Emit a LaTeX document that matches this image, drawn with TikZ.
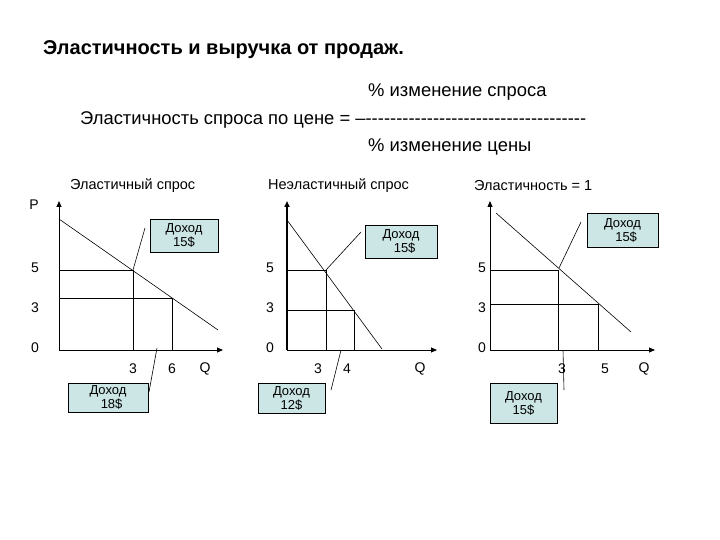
\documentclass[tikz,border=0pt]{standalone}
\usepackage{fontspec}
\setmainfont{Liberation Sans}
\usetikzlibrary{arrows.meta}
\definecolor{boxc}{RGB}{204,230,230}
\def\hy{\mbox{-}}
\def\hyten{\hy\hy\hy\hy\hy\hy\hy\hy\hy\hy}
\begin{document}
\begin{tikzpicture}[x=1pt,y=-1pt,
  ax/.style={-{Triangle[length=6pt,width=5pt]},line width=0.8pt},
  ln/.style={line width=0.6pt},
  lab/.style={font=\fontsize{14}{14}\selectfont,inner sep=0},
  ttl/.style={font=\fontsize{14.5}{14.5}\selectfont,anchor=west,inner sep=0},
  bx/.style={draw,fill=boxc,font=\fontsize{13}{14}\selectfont,align=center,inner sep=0}]
\useasboundingbox (0,0) rectangle (720,540);
\node[anchor=west,font=\bfseries\fontsize{20}{20}\selectfont,inner sep=0] (t) at (43,50) {Эластичность и выручка от продаж.};
\node[anchor=west,font=\fontsize{18.4}{18}\selectfont,inner sep=0] (f1) at (368,92) {\% изменение спроса};
\node[anchor=west,font=\fontsize{18.4}{18}\selectfont,inner sep=0] (f2) at (80,120) {Эластичность спроса по цене = –\hyten\hyten\hyten\hy\hy\hy\hy\hy\hy};
\node[anchor=west,font=\fontsize{18.4}{18}\selectfont,inner sep=0] (f3) at (368,147) {\% изменение цены};
\node[ttl] (c1) at (70,186) {Эластичный спрос};
\node[ttl] (c2) at (268,186) {Неэластичный спрос};
\node[ttl] (c3) at (474,186) {Эластичность = 1};
% chart 1
\coordinate (o1) at (59,350);
\coordinate (y1) at (59,201);
\coordinate (x1) at (223,350);
\draw[ax] (o1) -- (y1);
\draw[ax] (o1) -- (x1);
\node[lab] (P) at (34,205) {P};
\coordinate (a1) at (133,270); \coordinate (b1) at (172,298);
\coordinate (d1s) at (59,219); \coordinate (d1e) at (218,330);
\draw[ln] (d1s) -- (d1e);
\draw[ln] (59,270) -| (133,350);
\draw[ln] (59,298) -| (172,350);
\node[lab] at (35,268) {5}; \node[lab] at (35,308) {3}; \node[lab] at (35,348) {0};
\node[lab] at (133,369) {3}; \node[lab] at (172,369) {6}; \node[lab] at (205,369) {Q};
\node[bx,minimum width=68pt,minimum height=33pt] (bt1) at (184,235.5) {Доход\\15\$};
\coordinate (l1) at (145,228);
\draw[ln] (a1) -- (l1);
\node[bx,minimum width=80pt,minimum height=29pt] (bb1) at (108,397.5) {Доход\\\ \ 18\$};
\draw[ln] (149,392) -- (157,348);
% chart 2
\coordinate (o2) at (287,350);
\draw[ax,line width=1.6pt] (o2) -- (287,201);
\draw[ax] (o2) -- (437,350);
\draw[ln] (287,220) -- (382,349);
\draw[ln] (287,270) -| (326,350);
\draw[ln] (287,310) -| (354,350);
\node[lab] at (270,268) {5}; \node[lab] at (270,308) {3}; \node[lab] at (270,348) {0};
\node[lab] at (318,369) {3}; \node[lab] at (347,369) {4}; \node[lab] at (420,369) {Q};
\node[bx,minimum width=72pt,minimum height=33pt] (bt2) at (401,241.5) {Доход\\\ \ 15\$};
\draw[ln] (326,270) -- (361,232);
\node[bx,minimum width=67pt,minimum height=30pt] (bb2) at (291.5,398) {Доход\\12\$};
\draw[ln] (331,390) -- (341,350);
% chart 3
\coordinate (o3) at (490,350);
\draw[ax] (o3) -- (490,201);
\draw[ax] (o3) -- (655,350);
\draw[ln] (496,213) -- (631,332);
\draw[ln] (490,270) -| (558,350);
\draw[ln] (490,304) -| (598,350);
\node[lab] at (482,268) {5}; \node[lab] at (482,308) {3}; \node[lab] at (482,348) {0};
\node[lab] at (562,369) {3}; \node[lab] at (605,369) {5}; \node[lab] at (644,369) {Q};
\node[bx,minimum width=71pt,minimum height=34pt] (bt3) at (622.5,230) {Доход\\\ \ 15\$};
\draw[ln] (559,268) -- (581,222);
\node[bx,minimum width=67pt,minimum height=40pt] (bb3) at (523.5,403) {Доход\\15\$};
\draw[ln] (563,350) -- (564,390);
\end{tikzpicture}
\end{document}
